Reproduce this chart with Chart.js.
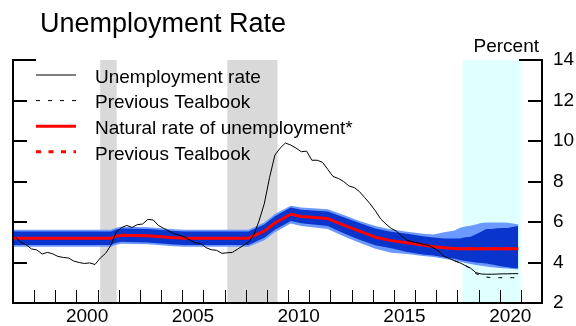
<!DOCTYPE html>
<html>
<head>
<meta charset="utf-8">
<script src="https://cdn.jsdelivr.net/npm/chart.js@4.4.0/dist/chart.umd.min.js"></script>
<style>
    body { margin: 0; background: #fff; }
    canvas { display: block; }
</style>
</head>
<body>
<canvas id="chart" width="576" height="326"></canvas>
<script>

// quarterly unemployment rate, 1997Q1 to 2020Q4 (staff forecast from 2018Q2)
let firstYear = 1997
let unemployment = [
    5.25, 5.0, 4.87, 4.67,
    4.62, 4.42, 4.5, 4.43,
    4.3, 4.25, 4.22, 4.07,
    4.0, 3.95, 3.98, 3.9,
    4.22, 4.45, 4.85, 5.5,
    5.72, 5.83, 5.73, 5.87,
    5.9, 6.13, 6.1, 5.83,
    5.68, 5.55, 5.42, 5.35,
    5.25, 5.1, 4.97, 4.93,
    4.73, 4.63, 4.6, 4.45,
    4.48, 4.5, 4.67, 4.83,
    5.0, 5.35, 6.05, 6.9,
    8.2, 9.3, 9.65, 9.9,
    9.8, 9.65, 9.47, 9.5,
    9.05, 9.05, 8.95, 8.6,
    8.25, 8.15, 8.0, 7.78,
    7.7, 7.5, 7.2, 6.9,
    6.55, 6.15, 5.9, 5.68,
    5.55, 5.3, 5.1, 5.02,
    4.97, 4.9, 4.85, 4.72,
    4.55, 4.3, 4.2, 4.08,
    3.98, 3.85, 3.72, 3.5,
    3.43, 3.42, 3.42, 3.43,
    3.44, 3.44, 3.45, 3.45
]

// previous Tealbook
let prevYears = [2017.875, 2018.125, 2018.375, 2018.625, 2018.875, 2019.125, 2019.375, 2019.625, 2019.875, 2020.125, 2020.375, 2020.625, 2020.875]
let prevUnemployment = [4.08, 3.98, 3.85, 3.7, 3.45, 3.35, 3.28, 3.25, 3.25, 3.25, 3.25, 3.25, 3.25]
let prevNaturalRate = [4.69, 4.68, 4.68, 4.68, 4.68, 4.68, 4.68, 4.68, 4.68, 4.68, 4.68, 4.68, 4.68]

// natural rate and its uncertainty bands
let natYears = [1996.875, 2001.625, 2001.875, 2002.125, 2003.375, 2004.625, 2005.125, 2008.125,
    2008.875, 2009.375, 2010.125, 2010.625, 2011.875, 2012.625, 2013.375, 2014.125, 2014.875,
    2015.625, 2016.375, 2016.875, 2017.375, 2017.875, 2018.125, 2018.375, 2018.625, 2018.875,
    2019.125, 2019.375, 2019.625, 2019.875, 2020.125, 2020.375, 2020.625, 2020.875]
let naturalRate = [5.2, 5.2, 5.3, 5.35, 5.32, 5.22, 5.2, 5.2,
    5.55, 5.95, 6.38, 6.27, 6.17, 5.85, 5.55, 5.25, 5.08,
    4.97, 4.86, 4.78, 4.73, 4.69, 4.68, 4.68, 4.68, 4.68,
    4.68, 4.68, 4.68, 4.68, 4.68, 4.68, 4.68, 4.68]
let innerUpper = [5.53, 5.53, 5.63, 5.68, 5.65, 5.55, 5.53, 5.53,
    5.88, 6.28, 6.71, 6.6, 6.52, 6.23, 5.95, 5.68, 5.52,
    5.42, 5.3, 5.24, 5.19, 5.18, 5.19, 5.25, 5.27, 5.4,
    5.52, 5.65, 5.66, 5.69, 5.7, 5.7, 5.75, 5.82]
let innerLower = [4.87, 4.87, 4.97, 5.02, 4.99, 4.89, 4.87, 4.87,
    5.22, 5.62, 6.05, 5.94, 5.8, 5.45, 5.12, 4.85, 4.7,
    4.52, 4.4, 4.34, 4.26, 4.18, 4.12, 4.08, 4.04, 4.0,
    3.97, 3.95, 3.9, 3.85, 3.8, 3.76, 3.73, 3.71]
let outerUpper = [5.62, 5.62, 5.72, 5.77, 5.74, 5.64, 5.62, 5.62,
    5.98, 6.4, 6.8, 6.72, 6.63, 6.35, 6.05, 5.8, 5.63,
    5.52, 5.42, 5.38, 5.5, 5.58, 5.72, 5.78, 5.82, 5.88,
    5.95, 5.98, 5.98, 5.98, 5.97, 5.96, 5.93, 5.88]
let outerLower = [4.78, 4.78, 4.88, 4.93, 4.9, 4.8, 4.78, 4.78,
    5.1, 5.5, 5.93, 5.8, 5.66, 5.3, 4.97, 4.68, 4.48,
    4.42, 4.32, 4.27, 4.18, 4.1, 4.04, 3.98, 3.92, 3.88,
    3.84, 3.8, 3.77, 3.74, 3.72, 3.7, 3.68, 3.66]

let recessions = [[2001.12, 2001.9], [2007.13, 2009.5]]
let forecastPeriod = [2018.25, 2021.0]

let xLabelYears = [2000, 2005, 2010, 2015, 2020]
let yTickValues = [2, 4, 6, 8, 10, 12, 14]

let font = '"Liberation Sans", Arial, sans-serif'

function pts(xs, ys){
    return xs.map((x, i) => ({x: x, y: ys[i]}))
}

let unemploymentPts = unemployment.map((v, i) => ({x: firstYear + (i + 0.5) / 4, y: v}))

// grey recession bars and the cyan forecast period behind everything
let shading = {
    id: 'shading',
    beforeDatasetsDraw(chart){
        let ctx = chart.ctx
        let a = chart.chartArea
        let x = chart.scales.x
        ctx.save()
        ctx.fillStyle = '#d9d9d9'
        recessions.forEach(r => {
            let x0 = x.getPixelForValue(r[0])
            let x1 = x.getPixelForValue(r[1])
            ctx.fillRect(x0, a.top, x1 - x0, a.bottom - a.top)
        })
        ctx.fillStyle = '#e0ffff'
        let f0 = x.getPixelForValue(forecastPeriod[0])
        let f1 = x.getPixelForValue(forecastPeriod[1])
        ctx.fillRect(f0, a.top, f1 - f0, a.bottom - a.top)
        ctx.restore()
    }
}

// axis lines with inward tick marks
let frame = {
    id: 'frame',
    afterDatasetsDraw(chart){
        let ctx = chart.ctx
        let a = chart.chartArea
        let x = chart.scales.x
        let y = chart.scales.y
        ctx.save()
        ctx.strokeStyle = '#000'
        ctx.lineWidth = 1
        x.ticks.forEach(t => {
            if (t.value <= x.min || t.value >= x.max) return
            let px = Math.round(x.getPixelForValue(t.value)) + 0.5
            ctx.beginPath()
            ctx.moveTo(px, a.bottom)
            ctx.lineTo(px, a.bottom - 13)
            ctx.stroke()
        })
        ctx.lineWidth = 2
        y.ticks.forEach(t => {
            let py = Math.round(y.getPixelForValue(t.value))
            let len = t.value === y.max ? 23 : 14
            ctx.beginPath()
            ctx.moveTo(a.left, py)
            ctx.lineTo(a.left + len, py)
            ctx.moveTo(a.right - len, py)
            ctx.lineTo(a.right, py)
            ctx.stroke()
        })
        ctx.beginPath()
        ctx.moveTo(a.left, a.top - 1)
        ctx.lineTo(a.left, a.bottom)
        ctx.lineTo(a.right, a.bottom)
        ctx.lineTo(a.right, a.top - 1)
        ctx.stroke()
        ctx.restore()
    }
}

// title, units and the legend in the upper left
let labels = {
    id: 'labels',
    afterDraw(chart){
        let ctx = chart.ctx
        ctx.save()
        ctx.fillStyle = '#000'
        ctx.textBaseline = 'alphabetic'
        ctx.textAlign = 'left'
        ctx.font = '27px ' + font
        ctx.fillText('Unemployment Rate', 40, 32)
        ctx.font = '19px ' + font
        ctx.textAlign = 'right'
        ctx.fillText('Percent', 539, 52)
        ctx.textAlign = 'left'
        for (let i = 0; i < 4; i++){
            let ds = chart.data.datasets[i]
            let ly = 75 + i * 25.6
            ctx.strokeStyle = ds.borderColor
            ctx.lineWidth = ds.borderWidth
            ctx.setLineDash(ds.borderDash || [])
            ctx.beginPath()
            ctx.moveTo(36, ly)
            ctx.lineTo(76, ly)
            ctx.stroke()
            ctx.fillText(ds.label, 95, ly + 7.8)
        }
        ctx.restore()
    }
}

let chart1 = document.getElementById('chart').getContext('2d')

let unemploymentChart = new Chart(chart1, {
    type: 'line',
    data: {
        datasets: [{
            label: 'Unemployment rate',
            data: unemploymentPts,
            borderColor: '#000',
            borderWidth: 1,
        }, {
            label: 'Previous Tealbook',
            data: pts(prevYears, prevUnemployment),
            borderColor: '#000',
            borderWidth: 1,
            borderDash: [4, 8],
        }, {
            label: 'Natural rate of unemployment*',
            data: pts(natYears, naturalRate),
            borderColor: '#ff0000',
            borderWidth: 3,
        }, {
            label: 'Previous Tealbook',
            data: pts(prevYears, prevNaturalRate),
            borderColor: '#ff0000',
            borderWidth: 3,
            borderDash: [5, 7.5],
        }, {
            label: 'inner upper',
            data: pts(natYears, innerUpper),
            borderWidth: 0,
            backgroundColor: '#0a35cc',
            fill: '+1',
        }, {
            label: 'inner lower',
            data: pts(natYears, innerLower),
            borderWidth: 0,
            fill: false,
        }, {
            label: 'outer upper',
            data: pts(natYears, outerUpper),
            borderWidth: 0,
            backgroundColor: '#6b99ff',
            fill: '+1',
        }, {
            label: 'outer lower',
            data: pts(natYears, outerLower),
            borderWidth: 0,
            fill: false,
        }]
    },
    options: {
        responsive: false,
        animation: false,
        elements: {
            point: {radius: 0, hoverRadius: 0},
            line: {tension: 0, borderJoinStyle: 'round'}
        },
        layout: {padding: {left: 13, top: 60, right: 0, bottom: 0}},
        plugins: {
            legend: {display: false},
            tooltip: {enabled: false},
            filler: {propagate: false}
        },
        scales: {
            x: {
                type: 'linear',
                position: 'bottom',
                min: 1997,
                max: 2022,
                grid: {display: false, drawTicks: false},
                border: {display: false},
                afterFit: s => { s.height = 23 },
                ticks: {
                    stepSize: 1,
                    autoSkip: false,
                    maxRotation: 0,
                    minRotation: 0,
                    padding: 2,
                    labelOffset: 10.6,
                    color: '#000',
                    font: {family: font, size: 19},
                    callback: v => xLabelYears.includes(v) ? String(v) : ''
                }
            },
            y: {
                type: 'linear',
                position: 'right',
                min: 2,
                max: 14,
                grid: {display: false, drawTicks: false},
                border: {display: false},
                afterFit: s => { s.width = 34 },
                afterBuildTicks: s => { s.ticks = yTickValues.map(v => ({value: v})) },
                ticks: {
                    padding: 11,
                    color: '#000',
                    font: {family: font, size: 19}
                }
            }
        }
    },
    plugins: [shading, frame, labels]
});
</script>
</body>
</html>
